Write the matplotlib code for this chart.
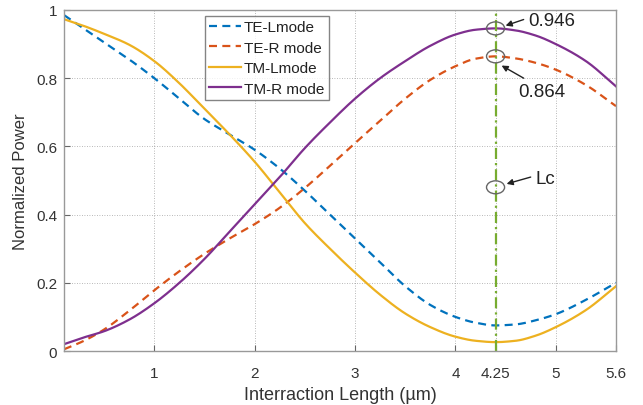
import numpy as np
import matplotlib
matplotlib.use("Agg")
import matplotlib.pyplot as plt
from matplotlib.patches import Ellipse

plt.rcParams['font.family'] = ['Liberation Sans', 'DejaVu Sans']

x = [0.1, 0.3, 0.5, 0.75, 1.0, 1.25, 1.5, 1.75, 2.0, 2.25, 2.5, 2.75, 3.0,
     3.25, 3.5, 3.75, 4.0, 4.2, 4.4, 4.6, 4.8, 5.0, 5.3, 5.6]
te_l = [0.985, 0.945, 0.905, 0.855, 0.80, 0.74, 0.68, 0.635, 0.59, 0.535, 0.47,
        0.40, 0.33, 0.26, 0.19, 0.135, 0.10, 0.083, 0.075, 0.078, 0.09, 0.108,
        0.15, 0.20]
te_r = [0.005, 0.03, 0.063, 0.118, 0.178, 0.234, 0.285, 0.33, 0.372, 0.42, 0.478,
        0.543, 0.61, 0.675, 0.74, 0.795, 0.835, 0.857, 0.864, 0.858, 0.845,
        0.825, 0.78, 0.718]
tm_l = [0.973, 0.953, 0.93, 0.898, 0.85, 0.785, 0.71, 0.635, 0.555, 0.465,
        0.375, 0.30, 0.23, 0.165, 0.11, 0.07, 0.042, 0.03, 0.026, 0.03, 0.045,
        0.07, 0.12, 0.19]
tm_r = [0.02, 0.04, 0.058, 0.092, 0.14, 0.20, 0.27, 0.35, 0.43, 0.51, 0.595,
        0.67, 0.74, 0.80, 0.85, 0.895, 0.928, 0.942, 0.946, 0.94, 0.925, 0.90,
        0.85, 0.776]
labels = ['TE-Lmode', 'TE-R mode', 'TM-Lmode', 'TM-R mode']
lc_pos = 4.4            # where the Lc line sits on the drawn axis
xticks = [1, 2, 3, 4, lc_pos, 5, 5.6]
xticklabels = ['1', '2', '3', '4', '4.25', '5', '5.6']
yticks = [0, 0.2, 0.4, 0.6, 0.8, 1.0]
yticklabels = ['0', '0.2', '0.4', '0.6', '0.8', '1']
annot_vals = [0.946, 0.864, 0.48]
annot_texts = ['0.946', '0.864', 'Lc']


def pchip(xs, ys, n=500):
    xs = np.asarray(xs, float); ys = np.asarray(ys, float)
    h = np.diff(xs); d = np.diff(ys) / h
    m = np.zeros_like(ys)
    for k in range(1, len(xs) - 1):
        if d[k - 1] * d[k] > 0:
            w1 = 2 * h[k] + h[k - 1]; w2 = h[k] + 2 * h[k - 1]
            m[k] = (w1 + w2) / (w1 / d[k - 1] + w2 / d[k])
    m[0] = d[0]; m[-1] = d[-1]
    xx = np.linspace(xs[0], xs[-1], n)
    i = np.clip(np.searchsorted(xs, xx) - 1, 0, len(xs) - 2)
    t = (xx - xs[i]) / h[i]
    h00 = 2 * t**3 - 3 * t**2 + 1; h10 = t**3 - 2 * t**2 + t
    h01 = -2 * t**3 + 3 * t**2; h11 = t**3 - t**2
    yy = h00 * ys[i] + h10 * h[i] * m[i] + h01 * ys[i + 1] + h11 * h[i] * m[i + 1]
    return xx, yy


fig = plt.figure(figsize=(6.43, 4.06), dpi=100)
ax = fig.add_axes([0.0995, 0.133, 0.8585, 0.840])

cols = ['#0072BD', '#D95319', '#EDB120', '#7E2F8E']
styles = [(0, (3.6, 2.4)), (0, (3.6, 2.4)), '-', '-']
for ys, c, ls, lab in zip([te_l, te_r, tm_l, tm_r], cols, styles, labels):
    xx, yy = pchip(x, ys)
    ax.plot(xx, yy, color=c, lw=1.6, linestyle=ls, label=lab)

ax.plot([lc_pos, lc_pos], [0, 1], color='#77AC30', lw=1.6,
        linestyle=(0, (5, 1.8, 1, 1.8)))

ax.set_xlim(0.1, 5.6)
ax.set_ylim(0, 1)
ax.set_xticks(xticks)
ax.set_xticklabels(xticklabels)
ax.set_yticks(yticks)
ax.set_yticklabels(yticklabels)
ax.grid(True, linestyle=(0, (1, 2)), color='#444444', lw=0.6, alpha=0.5)
ax.tick_params(direction='in', length=4, color='#666666', labelsize=11,
               labelcolor='#333333')
ax.tick_params(axis='x', pad=11)
ax.tick_params(axis='y', pad=5)
for s in ax.spines.values():
    s.set_color('#999999'); s.set_linewidth(1.0)
ax.set_xlabel('Interraction Length (µm)', fontsize=13, color='#333333', labelpad=4)
ax.set_ylabel('Normalized Power', fontsize=12, color='#333333', labelpad=6)

leg = ax.legend(loc='upper left', bbox_to_anchor=(0.255, 0.983), fontsize=11,
                frameon=True, fancybox=False, handlelength=2.1, handletextpad=0.15,
                borderpad=0.3, labelspacing=0.42, borderaxespad=0)
leg.get_frame().set_edgecolor('#666666')
leg.get_frame().set_linewidth(1.0)
for t in leg.get_texts():
    t.set_color('#222222')

for v in annot_vals:
    ax.add_patch(Ellipse((lc_pos, v), 0.18, 0.038, fill=False, ec='#666666',
                         lw=1.0, zorder=5))

arrow_kw = dict(arrowstyle='-|>', color='#222222', lw=1.0, mutation_scale=9,
                shrinkA=0, shrinkB=0)
tails = [(4.68, 0.972), (4.68, 0.80), (4.75, 0.51)]
heads = [(4.50, 0.954), (4.46, 0.837), (4.51, 0.49)]
text_pos = [(4.73, 0.97), (4.63, 0.76), (4.80, 0.505)]
for tl, hd, tp, s in zip(tails, heads, text_pos, annot_texts):
    ax.annotate('', xy=hd, xytext=tl, arrowprops=arrow_kw, annotation_clip=False)
    ax.text(tp[0], tp[1], s, fontsize=13.5, color='#222222', va='center', ha='left')

fig.savefig('out.png', dpi=100)
